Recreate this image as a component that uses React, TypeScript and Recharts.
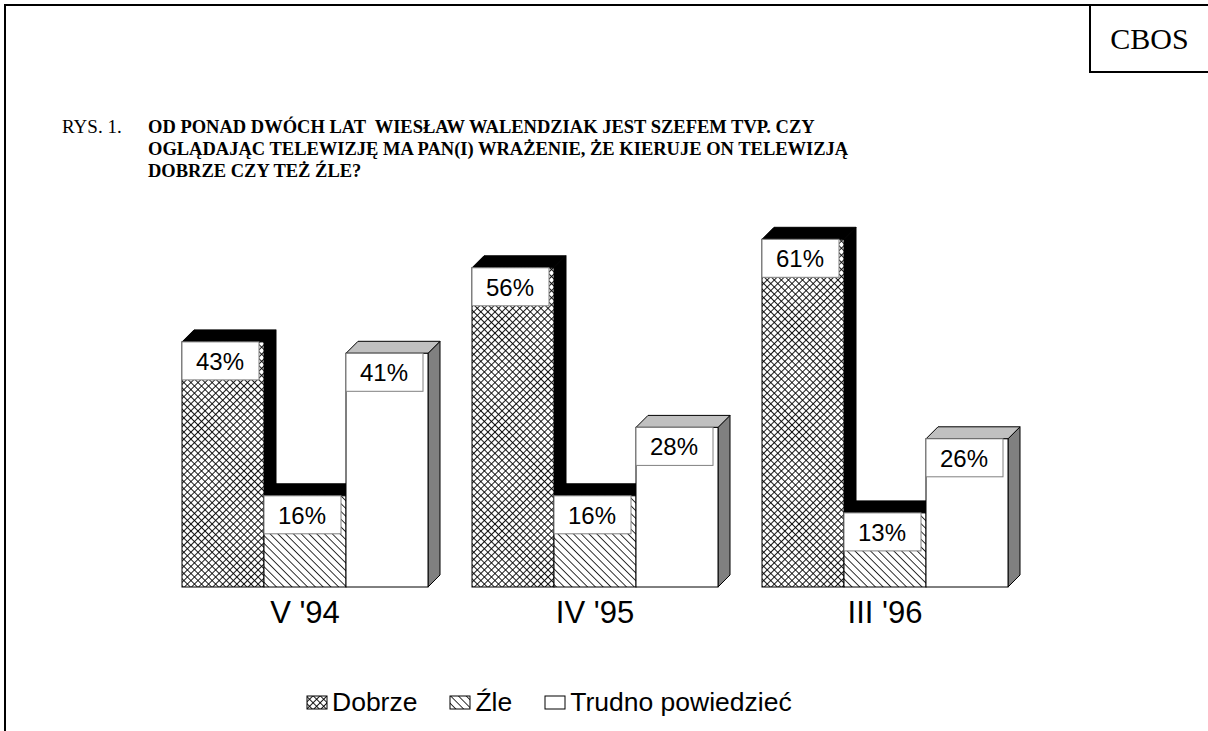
import React from 'react'
import { BarChart, Bar, XAxis, YAxis, Legend, LabelList } from 'recharts'

const categories = ["V '94", "IV '95", "III '96"]
const dobrze = [43, 56, 61]
const zle = [16, 16, 13]
const trudno = [41, 28, 26]

const seriesNames = ['Dobrze', 'Źle', 'Trudno powiedzieć']

const data = categories.map((cat, i) => ({
  cat,
  dobrze: dobrze[i],
  zle: zle[i],
  trudno: trudno[i],
}))

const DEPTH = 12
const FONT = 'Arial, "Liberation Sans", sans-serif'
const SERIF = '"Liberation Serif", "Times New Roman", serif'

const makeShape = (front: string, top: string, side: string) => (props: any) => {
  const { x, y, width, height } = props
  const d = DEPTH
  const b = y + height
  return (
    <g>
      <polygon
        points={`${x + width},${y} ${x + width + d},${y - d} ${x + width + d},${b - d} ${x + width},${b}`}
        fill={side}
        stroke="#000"
        strokeWidth={1}
      />
      <polygon
        points={`${x},${y} ${x + d},${y - d} ${x + width + d},${y - d} ${x + width},${y}`}
        fill={top}
        stroke="#000"
        strokeWidth={1}
      />
      <rect x={x} y={y} width={width} height={height} fill={front} stroke="#000" strokeWidth={1} />
    </g>
  )
}

const ValueBox = (props: any) => {
  const { x, y, value } = props
  return (
    <g>
      <rect x={x} y={y} width={77} height={38} fill="#fff" stroke="#808080" strokeWidth={1} />
      <text x={x + 38} y={y + 28} textAnchor="middle" fontSize={24} fontFamily={FONT} fill="#000">
        {value}%
      </text>
    </g>
  )
}

const CatTick = (props: any) => {
  const { x, y, payload } = props
  return (
    <text x={x} y={y + 28} textAnchor="middle" fontSize={31} fontFamily={FONT} fill="#000">
      {payload.value}
    </text>
  )
}

const legendFills = ['url(#cross)', 'url(#diag)', '#fff']

const LegendContent = () => (
  <div style={{ display: 'flex', alignItems: 'center', fontFamily: FONT, fontSize: 26.5, color: '#000' }}>
    {seriesNames.map((name, i) => (
      <div key={name} style={{ display: 'flex', alignItems: 'center', marginRight: 32 }}>
        <svg width={22} height={15} style={{ marginRight: 4 }}>
          <rect x={1} y={1} width={20} height={13} fill={legendFills[i]} stroke="#000" strokeWidth={1} />
        </svg>
        <span>{name}</span>
      </div>
    ))}
  </div>
)

export default function App() {
  return (
    <div
      style={{
        position: 'absolute',
        left: 0,
        top: 0,
        width: 1208,
        height: 731,
        background: '#fff',
        overflow: 'hidden',
      }}
    >
      {/* frame */}
      <div style={{ position: 'absolute', left: 4, top: 4, width: 1204, height: 2, background: '#000' }} />
      <div style={{ position: 'absolute', left: 4, top: 4, width: 2, height: 727, background: '#000' }} />
      <div style={{ position: 'absolute', left: 1089, top: 4, width: 2, height: 69, background: '#000' }} />
      <div style={{ position: 'absolute', left: 1089, top: 71, width: 119, height: 2, background: '#000' }} />
      <div
        style={{
          position: 'absolute',
          left: 1091,
          top: 22,
          width: 117,
          textAlign: 'center',
          fontFamily: SERIF,
          fontSize: 30,
          lineHeight: '34px',
        }}
      >
        CBOS
      </div>

      {/* title */}
      <div
        style={{
          position: 'absolute',
          left: 62,
          top: 116,
          fontFamily: SERIF,
          fontSize: 19,
          lineHeight: '22px',
        }}
      >
        RYS. 1.
      </div>
      <div
        style={{
          position: 'absolute',
          left: 148,
          top: 116,
          width: 800,
          fontFamily: SERIF,
          fontWeight: 'bold',
          fontSize: 18.5,
          lineHeight: '22px',
          whiteSpace: 'pre',
        }}
      >
        {'OD PONAD DWÓCH LAT  WIESŁAW WALENDZIAK JEST SZEFEM TVP. CZY\nOGLĄDAJĄC TELEWIZJĘ MA PAN(I) WRAŻENIE, ŻE KIERUJE ON TELEWIZJĄ\nDOBRZE CZY TEŻ ŹLE?'}
      </div>

      <div style={{ position: 'absolute', left: 0, top: 0 }}>
        <BarChart
          width={1208}
          height={731}
          data={data}
          margin={{ top: 188, right: 178, bottom: 0, left: 160 }}
          barSize={82}
          barGap={0}
        >
          <defs>
            <pattern id="cross" patternUnits="userSpaceOnUse" width={5} height={5} patternTransform="rotate(45)">
              <rect width={5} height={5} fill="#fff" />
              <line x1={0} y1={0} x2={0} y2={5} stroke="#000" strokeWidth={1.8} />
              <line x1={0} y1={0} x2={5} y2={0} stroke="#000" strokeWidth={1.8} />
            </pattern>
            <pattern id="diag" patternUnits="userSpaceOnUse" width={5.5} height={5.5} patternTransform="rotate(-45)">
              <rect width={5.5} height={5.5} fill="#fff" />
              <line x1={0} y1={0} x2={0} y2={5.5} stroke="#000" strokeWidth={1.6} />
            </pattern>
          </defs>
          <XAxis
            dataKey="cat"
            axisLine={false}
            tickLine={false}
            height={144}
            tick={<CatTick />}
            interval={0}
          />
          <YAxis hide domain={[0, 70]} />
          <Legend
            verticalAlign="middle"
            align="center"
            layout="horizontal"
            content={<LegendContent />}
            wrapperStyle={{ top: 687, left: 306, width: 700 }}
          />
          <Bar dataKey="dobrze" name={seriesNames[0]} fill="url(#cross)" shape={makeShape('url(#cross)', '#000', '#000')} isAnimationActive={false}>
            <LabelList dataKey="dobrze" content={<ValueBox />} />
          </Bar>
          <Bar dataKey="zle" name={seriesNames[1]} fill="url(#diag)" shape={makeShape('url(#diag)', '#000', '#000')} isAnimationActive={false}>
            <LabelList dataKey="zle" content={<ValueBox />} />
          </Bar>
          <Bar dataKey="trudno" name={seriesNames[2]} fill="#fff" shape={makeShape('#fff', '#c0c0c0', '#808080')} isAnimationActive={false}>
            <LabelList dataKey="trudno" content={<ValueBox />} />
          </Bar>
        </BarChart>
      </div>
    </div>
  )
}
